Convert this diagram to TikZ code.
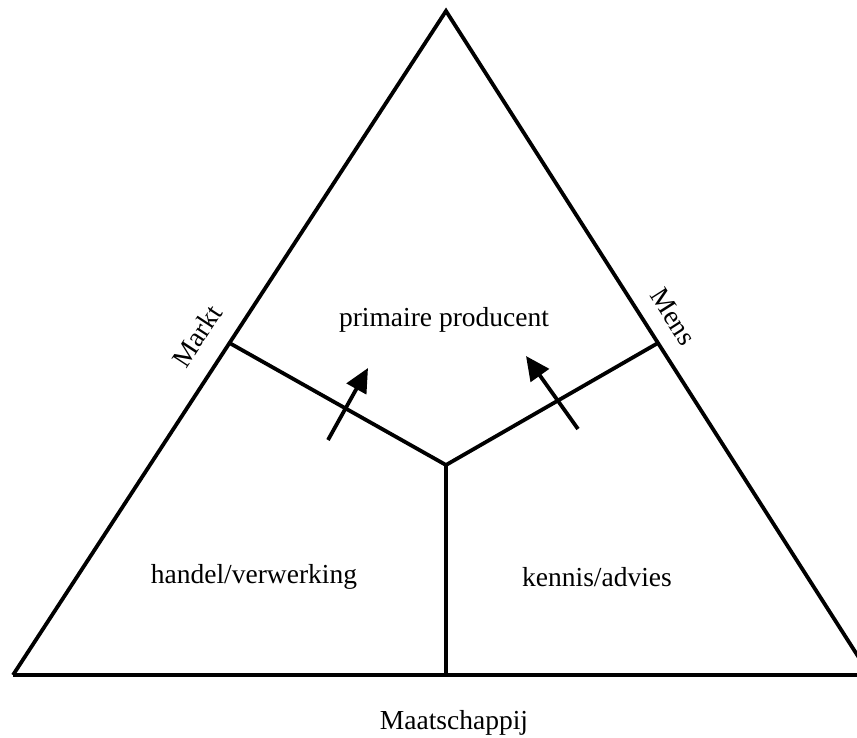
\documentclass[tikz,border=0pt]{standalone}
\usepackage{fontspec}
\setmainfont{Liberation Serif}
\usetikzlibrary{arrows.meta,calc}
\begin{document}
\begin{tikzpicture}[x=1pt,y=-1pt,
  edge/.style={line width=3.8pt,black},
  flow/.style={line width=3.8pt,black,-{Triangle[length=24pt,width=22pt]}},
  lbl/.style={font=\fontsize{27.5}{30}\selectfont,inner sep=0pt}]
\useasboundingbox (0,0) rectangle (857,738);
\clip (0,0) rectangle (857,738);
\coordinate (apex) at (446,11);
\coordinate (bl) at (13,675);
\coordinate (br) at (870,675);
\coordinate (bend) at (880,675);
\coordinate (c) at (446,465);
\coordinate (cb) at (446,675);
\coordinate (ml) at ($(apex)!0.5!(bl)$);
\coordinate (mr) at ($(apex)!0.5!(br)$);
\draw[edge,line join=miter] (bl) -- (apex) -- (br);
\draw[edge] (bl) -- (bend);
\draw[edge,line join=miter] (ml) -- (c) -- (mr);
\draw[edge] (c) -- (cb);
\coordinate (a1s) at (328,440);
\coordinate (a1e) at (368,368);
\coordinate (a2s) at (578,429);
\coordinate (a2e) at (526,356);
\draw[flow] (a1s) -- (a1e);
\draw[flow] (a2s) -- (a2e);
\node[lbl] (pp) at (444,320) {primaire producent};
\node[lbl] (hv) at (254,577) {handel/verwerking};
\node[lbl] (ka) at (597,577) {kennis/advies};
\node[lbl] (ms) at (454,723) {Maatschappij};
\node[lbl,rotate=56.8] (mk) at (197,336) {Markt};
\node[lbl,rotate=-57.5] (mn) at (673,317) {Mens};
\end{tikzpicture}
\end{document}
